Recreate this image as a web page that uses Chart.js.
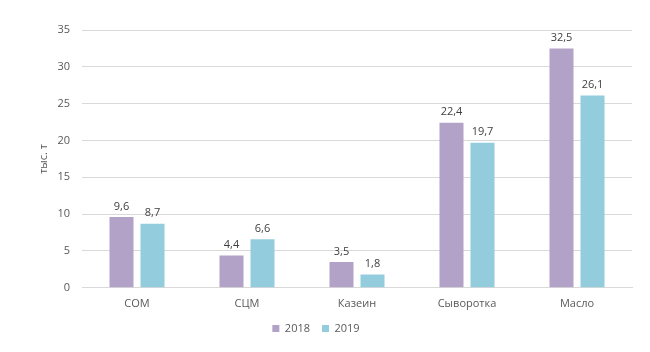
<!doctype html>
<html lang="ru">
<head>
<meta charset="utf-8" />
<title>Chart</title>
<script src="https://cdn.jsdelivr.net/npm/chart.js@4.4.1/dist/chart.umd.min.js"></script>
<style>
  html, body { margin: 0; padding: 0; background: #fff; }
  #wrap { width: 650px; height: 352px; }
</style>
</head>
<body>
<div id="wrap"><canvas id="myChart" width="650" height="352"></canvas></div>
<script>
  const categories = ['СОМ', 'СЦМ', 'Казеин', 'Сыворотка', 'Масло'];
  const values2018 = [9.6, 4.4, 3.5, 22.4, 32.5];
  const values2019 = [8.7, 6.6, 1.8, 19.7, 26.1];
  const yTicks = [0, 5, 10, 15, 20, 25, 30, 35];

  const textColor = '#595959';
  const fontFamily = "'Open Sans', 'Liberation Sans', sans-serif";

  // подписи значений над столбцами
  const valueLabels = {
    id: 'valueLabels',
    afterDatasetsDraw(chart) {
      const ctx = chart.ctx;
      ctx.save();
      ctx.font = '11px ' + fontFamily;
      ctx.fillStyle = '#404040';
      ctx.textAlign = 'center';
      ctx.textBaseline = 'bottom';
      chart.data.datasets.forEach((ds, i) => {
        chart.getDatasetMeta(i).data.forEach((bar, j) => {
          ctx.fillText(String(ds.data[j]).replace('.', ','), bar.x, bar.y - 5);
        });
      });
      ctx.restore();
    }
  };

  const ctx = document.getElementById('myChart').getContext('2d');
  new Chart(ctx, {
    type: 'bar',
    data: {
      labels: categories,
      datasets: [
        { label: '2018', data: values2018, backgroundColor: '#b3a2c7' },
        { label: '2019', data: values2019, backgroundColor: '#93cddd' }
      ]
    },
    options: {
      responsive: false,
      animation: false,
      categoryPercentage: 0.564,
      barPercentage: 0.774,
      layout: { padding: { top: 30, right: 18, left: 0, bottom: 8 } },
      plugins: {
        legend: {
          position: 'bottom',
          labels: {
            boxWidth: 7, boxHeight: 7, color: textColor,
            font: { size: 11, family: fontFamily }, padding: 12
          }
        },
        tooltip: { enabled: false }
      },
      scales: {
        x: {
          grid: { display: false },
          border: { color: '#d9d9d9' },
          ticks: { color: textColor, font: { size: 11, family: fontFamily }, padding: 1 }
        },
        y: {
          min: 0, max: 35,
          afterBuildTicks(axis) { axis.ticks = yTicks.map(v => ({ value: v })); },
          afterFit(axis) { axis.width = 82; },
          grid: { color: '#d9d9d9', drawTicks: false },
          border: { display: false },
          ticks: { color: textColor, font: { size: 11, family: fontFamily }, padding: 12 },
          title: { display: true, text: 'тыс. т', color: textColor, font: { size: 11, family: fontFamily }, padding: { top: 37, bottom: 12 } }
        }
      }
    },
    plugins: [valueLabels]
  });
</script>
</body>
</html>
